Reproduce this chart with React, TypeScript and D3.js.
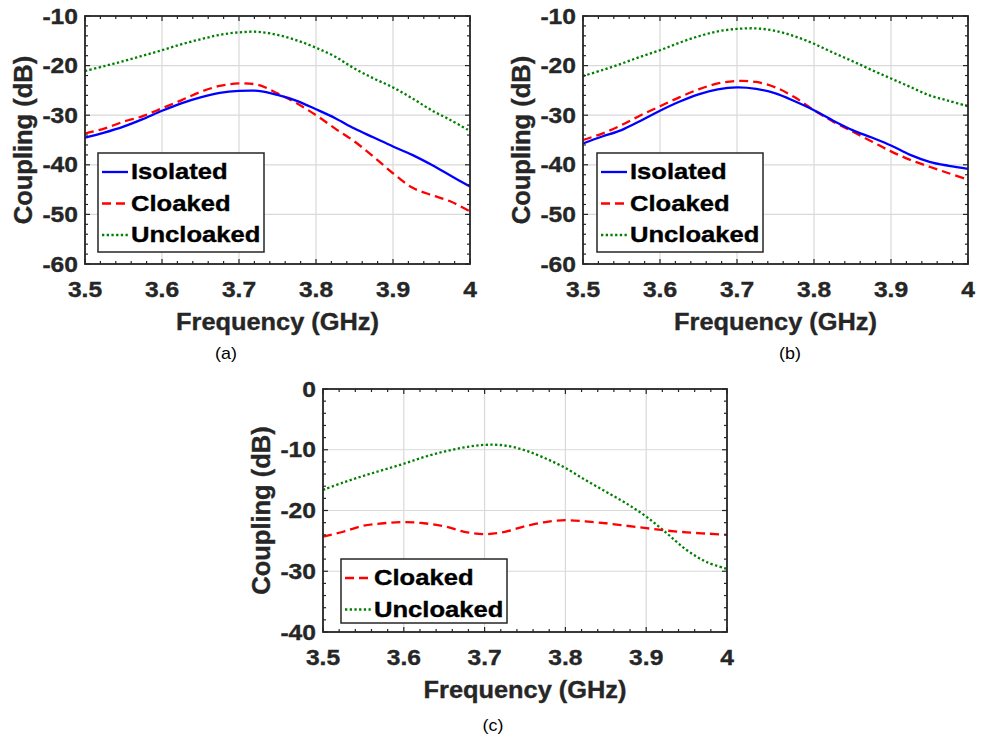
import React from "react";
import * as d3 from "d3";

const freqs = [
  3.5, 3.525, 3.55, 3.575, 3.6, 3.625, 3.65, 3.675, 3.7, 3.725, 3.75,
  3.775, 3.8, 3.825, 3.85, 3.875, 3.9, 3.925, 3.95, 3.975, 4.0,
];

const aIsolated = [-34.5, -33.5, -32.3, -30.8, -29.1, -27.6, -26.4, -25.5, -25.1, -25.1, -25.9, -27.1, -28.8, -30.6, -32.7, -34.5, -36.3, -38.0, -40.0, -42.2, -44.4];
const aCloaked = [-33.7, -32.7, -31.3, -30.2, -28.6, -27.0, -25.3, -24.1, -23.6, -23.9, -25.6, -27.6, -30.0, -32.7, -35.3, -38.4, -41.7, -44.6, -46.1, -47.4, -49.4];
const aUncloaked = [-21.1, -20.1, -19.1, -18.0, -16.9, -15.7, -14.7, -13.8, -13.3, -13.2, -13.8, -14.9, -16.4, -18.2, -20.6, -22.6, -24.4, -26.6, -29.0, -31.0, -33.2];

const bIsolated = [-35.7, -34.3, -33.0, -31.1, -29.1, -27.3, -25.8, -24.8, -24.4, -24.7, -25.6, -27.2, -29.0, -31.1, -33.0, -34.5, -36.1, -38.0, -39.4, -40.2, -40.8];
const bCloaked = [-35.0, -33.7, -32.0, -30.0, -28.2, -26.4, -24.8, -23.6, -23.1, -23.3, -24.4, -26.4, -29.0, -31.3, -33.3, -35.3, -37.3, -39.0, -40.4, -41.7, -43.0];
const bUncloaked = [-22.1, -20.9, -19.6, -18.2, -16.9, -15.4, -14.1, -13.1, -12.6, -12.5, -13.0, -14.1, -15.6, -17.4, -19.1, -20.9, -22.6, -24.3, -26.0, -27.1, -28.2];

const cCloaked = [-24.3, -23.5, -22.5, -22.1, -21.9, -22.1, -22.6, -23.5, -23.9, -23.5, -22.6, -21.9, -21.6, -21.8, -22.1, -22.5, -22.9, -23.3, -23.6, -23.8, -24.0];
const cUncloaked = [-16.6, -15.4, -14.3, -13.3, -12.3, -11.2, -10.3, -9.6, -9.2, -9.3, -10.1, -11.4, -13.0, -15.0, -16.9, -18.8, -21.0, -23.7, -26.5, -28.5, -29.6];

const xTicks = [3.5, 3.6, 3.7, 3.8, 3.9, 4];
const yTicksAB = [-60, -50, -40, -30, -20, -10];
const yTicksC = [-40, -30, -20, -10, 0];

const seriesStyles: Record<string, { color: string; dash: string }> = {
  Isolated: { color: "#0000ff", dash: "" },
  Cloaked: { color: "#ff0000", dash: "9,5" },
  Uncloaked: { color: "#008000", dash: "2.3,2.4" },
};

const FONT = "'Liberation Sans', Arial, sans-serif";

function SText({ x, y, size, anchor = "middle", weight = "bold", fill = "#262626", rotate = 0, sx = 1.12, heavy = 0.35, children }: any) {
  return (
    <text
      transform={`translate(${x},${y}) rotate(${rotate}) scale(${sx},1)`}
      fontFamily={FONT}
      fontSize={size}
      fontWeight={weight}
      fill={fill}
      stroke={heavy ? fill : "none"}
      strokeWidth={heavy}
      textAnchor={anchor}
      dominantBaseline="central"
    >
      {children}
    </text>
  );
}

function Panel({ left, right, top, bottom, yDomain, yTicks, series, legendBox, legendRows, label, labelPos }: any) {
  const x = d3.scaleLinear().domain([3.5, 4]).range([left, right]);
  const y = d3.scaleLinear().domain(yDomain).range([bottom, top]);
  const line = d3
    .line<[number, number]>()
    .x((d) => x(d[0]))
    .y((d) => y(d[1]))
    .curve(d3.curveCatmullRom.alpha(0.5));
  const xMinor = d3.range(0, 26).map((i) => 3.5 + i * 0.02);
  const yMinor = d3.range(0, (yDomain[1] - yDomain[0]) / 2 + 1).map((i) => yDomain[0] + i * 2);
  const frame = "#262626";
  return (
    <g>
      <rect x={left} y={top} width={right - left} height={bottom - top} fill="#fff" />
      {xTicks.map((t) => (
        <line key={"gx" + t} x1={x(t)} x2={x(t)} y1={top} y2={bottom} stroke="#d9d9d9" strokeWidth={1.2} />
      ))}
      {yTicks.map((t: number) => (
        <line key={"gy" + t} x1={left} x2={right} y1={y(t)} y2={y(t)} stroke="#d9d9d9" strokeWidth={1.2} />
      ))}
      {series.map((s: any) => {
        const st = seriesStyles[s.name];
        return (
          <path
            key={s.name}
            d={line(freqs.map((f, i) => [f, s.values[i]]) as [number, number][]) || ""}
            fill="none"
            stroke={st.color}
            strokeWidth={2.3}
            strokeDasharray={st.dash}
          />
        );
      })}
      {xMinor.map((t, i) => {
        const major = i % 5 === 0;
        const L = major ? 5 : 3;
        return (
          <g key={"tx" + i}>
            <line x1={x(t)} x2={x(t)} y1={bottom} y2={bottom - L} stroke={frame} strokeWidth={1.2} />
            <line x1={x(t)} x2={x(t)} y1={top} y2={top + L} stroke={frame} strokeWidth={1.2} />
          </g>
        );
      })}
      {yMinor.map((t: number, i: number) => {
        const major = i % 5 === 0;
        const L = major ? 5 : 3;
        return (
          <g key={"ty" + i}>
            <line x1={left} x2={left + L} y1={y(t)} y2={y(t)} stroke={frame} strokeWidth={1.2} />
            <line x1={right} x2={right - L} y1={y(t)} y2={y(t)} stroke={frame} strokeWidth={1.2} />
          </g>
        );
      })}
      <rect x={left} y={top} width={right - left} height={bottom - top} fill="none" stroke={frame} strokeWidth={1.8} />
      {xTicks.map((t) => (
        <SText key={"lx" + t} x={x(t)} y={bottom + 25} size={22}>
          {String(t)}
        </SText>
      ))}
      {yTicks.map((t: number) => (
        <SText key={"ly" + t} x={left - 7} y={y(t)} size={22} anchor="end">
          {String(t)}
        </SText>
      ))}
      <SText x={(left + right) / 2} y={bottom + 58} size={23.5} sx={1.08}>
        Frequency (GHz)
      </SText>
      <SText x={left - 62} y={(top + bottom) / 2} size={25.5} rotate={-90} sx={1}>
        Coupling (dB)
      </SText>
      <rect x={legendBox[0]} y={legendBox[1]} width={legendBox[2]} height={legendBox[3]} fill="#fff" stroke={frame} strokeWidth={1.5} />
      {legendRows.map((name: string, i: number) => {
        const st = seriesStyles[name];
        const ry = legendBox[1] + 19 + i * 31.5;
        return (
          <g key={"lg" + name}>
            <line x1={legendBox[0] + 4} x2={legendBox[0] + 30} y1={ry} y2={ry} stroke={st.color} strokeWidth={2.3} strokeDasharray={st.dash} />
            <SText x={legendBox[0] + 33} y={ry} size={21.5} anchor="start" fill="#000" sx={1.19}>
              {name}
            </SText>
          </g>
        );
      })}
      <SText x={labelPos[0]} y={labelPos[1]} size={17} weight="normal" fill="#000" sx={1.05} heavy={0}>
        {label}
      </SText>
    </g>
  );
}

export default function App() {
  return (
    <svg width={982} height={737} style={{ position: "absolute", left: 0, top: 0, background: "#fff" }}>
      <rect width={982} height={737} fill="#fff" />
      <Panel
        left={85}
        right={470}
        top={16}
        bottom={264}
        yDomain={[-60, -10]}
        yTicks={yTicksAB}
        series={[
          { name: "Uncloaked", values: aUncloaked },
          { name: "Cloaked", values: aCloaked },
          { name: "Isolated", values: aIsolated },
        ]}
        legendBox={[98, 153, 166, 99]}
        legendRows={["Isolated", "Cloaked", "Uncloaked"]}
        label="(a)"
        labelPos={[226, 353]}
      />
      <Panel
        left={583}
        right={968}
        top={16}
        bottom={264}
        yDomain={[-60, -10]}
        yTicks={yTicksAB}
        series={[
          { name: "Uncloaked", values: bUncloaked },
          { name: "Cloaked", values: bCloaked },
          { name: "Isolated", values: bIsolated },
        ]}
        legendBox={[597, 153, 166, 99]}
        legendRows={["Isolated", "Cloaked", "Uncloaked"]}
        label="(b)"
        labelPos={[790, 353]}
      />
      <Panel
        left={323}
        right={727}
        top={389}
        bottom={632}
        yDomain={[-40, 0]}
        yTicks={yTicksC}
        series={[
          { name: "Uncloaked", values: cUncloaked },
          { name: "Cloaked", values: cCloaked },
        ]}
        legendBox={[341, 559, 166, 64]}
        legendRows={["Cloaked", "Uncloaked"]}
        label="(c)"
        labelPos={[493, 725]}
      />
    </svg>
  );
}
